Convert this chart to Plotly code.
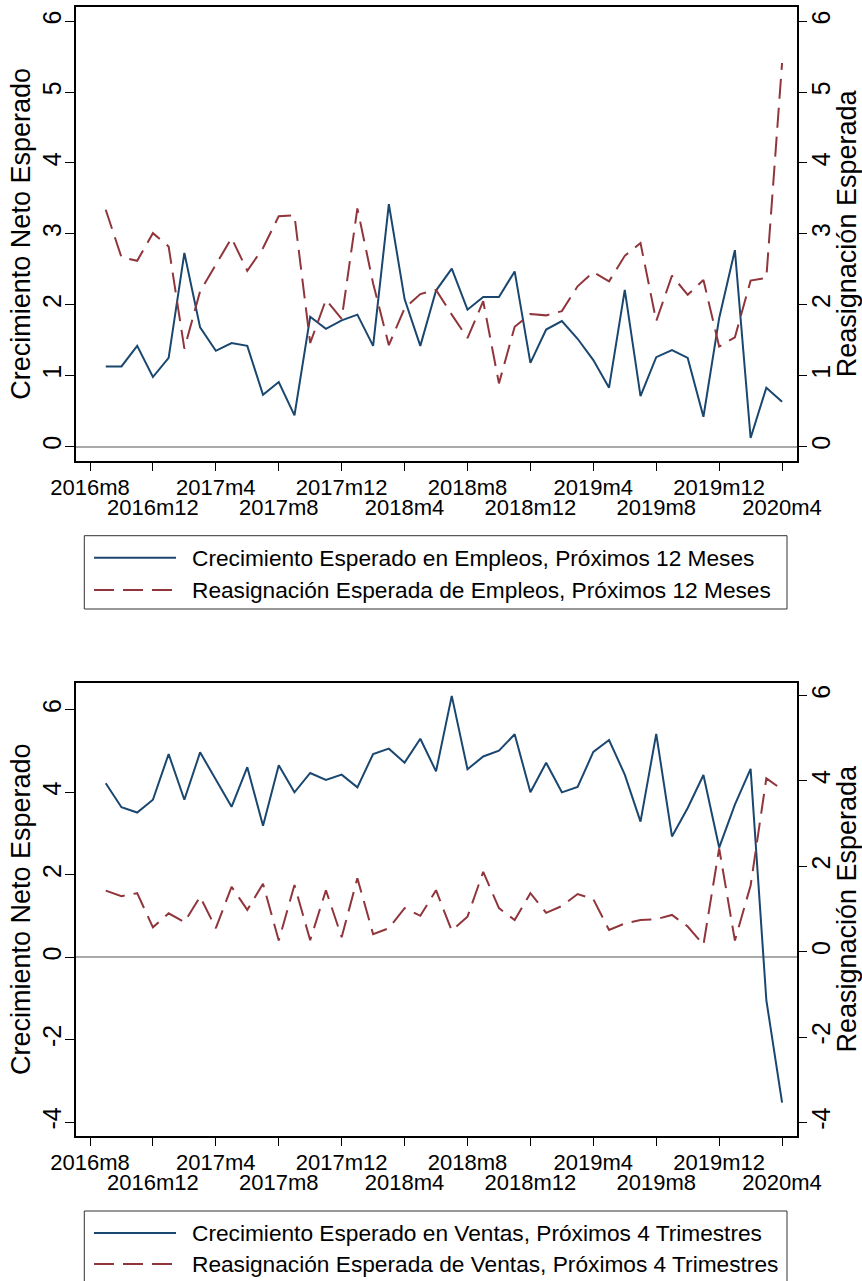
import plotly.graph_objects as go

W, H = 862, 1281

# ---------------- data ----------------
# monthly observations 2016m9 .. 2020m4
y0, m0 = 2016, 9
months = []
yy, mm = y0, m0
for _ in range(44):
    months.append(f"{yy}m{mm}")
    mm += 1
    if mm > 12:
        mm = 1
        yy += 1

empleo_crecimiento = [1.13, 1.13, 1.42, 0.98, 1.25, 2.73, 1.68, 1.35, 1.46, 1.42,
                      0.73, 0.91, 0.44, 1.83, 1.66, 1.78, 1.86, 1.42, 3.42, 2.08,
                      1.42, 2.20, 2.51, 1.93, 2.11, 2.11, 2.47, 1.18, 1.65, 1.77,
                      1.52, 1.22, 0.83, 2.21, 0.71, 1.26, 1.36, 1.25, 0.42, 1.81,
                      2.77, 0.12, 0.83, 0.63]
empleo_reasignacion = [3.34, 2.67, 2.62, 3.01, 2.82, 1.38, 2.19, 2.56, 2.94, 2.48,
                       2.80, 3.25, 3.26, 1.46, 2.07, 1.80, 3.36, 2.30, 1.43, 1.95,
                       2.15, 2.21, 1.86, 1.53, 2.05, 0.89, 1.69, 1.87, 1.85, 1.91,
                       2.26, 2.46, 2.33, 2.69, 2.87, 1.77, 2.41, 2.14, 2.35, 1.41,
                       1.54, 2.34, 2.38, 5.41]
ventas_crecimiento = [4.22, 3.64, 3.51, 3.82, 4.93, 3.82, 4.97, 4.30, 3.65, 4.61,
                      3.19, 4.66, 4.00, 4.47, 4.30, 4.43, 4.12, 4.93, 5.06, 4.72,
                      5.30, 4.51, 6.34, 4.56, 4.87, 5.01, 5.41, 4.00, 4.72, 4.00,
                      4.13, 4.98, 5.27, 4.43, 3.29, 5.42, 2.93, 3.62, 4.42, 2.66,
                      3.70, 4.57, -1.04, -3.53]
ventas_reasignacion = [1.43, 1.30, 1.37, 0.57, 0.90, 0.69, 1.29, 0.55, 1.52, 0.98,
                       1.59, 0.26, 1.56, 0.27, 1.44, 0.34, 1.72, 0.41, 0.55, 1.02,
                       0.84, 1.44, 0.49, 0.82, 1.87, 1.02, 0.74, 1.37, 0.91, 1.07,
                       1.35, 1.23, 0.51, 0.66, 0.74, 0.76, 0.86, 0.59, 0.16, 2.42,
                       0.26, 1.55, 4.06, 3.80]

ticks_fila1 = ["2016m8", "2017m4", "2017m12", "2018m8", "2019m4", "2019m12"]
ticks_fila2 = ["2016m12", "2017m8", "2018m4", "2018m12", "2019m8", "2020m4"]
yticks_top = [0, 1, 2, 3, 4, 5, 6]
yticks_bot = [-4, -2, 0, 2, 4, 6]

leyenda_top = ["Crecimiento Esperado en Empleos, Próximos 12 Meses",
               "Reasignación Esperada de Empleos, Próximos 12 Meses"]
leyenda_bot = ["Crecimiento Esperado en Ventas, Próximos 4 Trimestres",
               "Reasignación Esperada de Ventas, Próximos 4 Trimestres"]


def month_index(label):
    y, m = label.split("m")
    return (int(y) - 2016) * 12 + (int(m) - 8)


x_vals = [month_index(s) for s in months]
tv1 = [month_index(s) for s in ticks_fila1]
tv2 = [month_index(s) for s in ticks_fila2]

# ---------------- style ----------------
BLUE = "#1a476f"
RED = "#90353b"
FONT = "Liberation Sans, Arial, Helvetica, sans-serif"
DASH = "20px,9px"


def px_x(px):
    return px / W


def px_y(py):
    return 1 - py / H


XDOM = [px_x(76), px_x(796.7)]
TOP_DOM = [px_y(460.7), px_y(7)]
BOT_DOM = [px_y(1135.7), px_y(682.7)]
XRANGE = [-0.89, 44.93]

fig = go.Figure()
fig.add_trace(go.Scatter(x=x_vals, y=empleo_crecimiento, mode="lines", name=leyenda_top[0],
                         line=dict(color=BLUE, width=2), xaxis="x", yaxis="y", showlegend=False))
fig.add_trace(go.Scatter(x=x_vals, y=empleo_reasignacion, mode="lines", name=leyenda_top[1],
                         line=dict(color=RED, width=2, dash=DASH), xaxis="x3", yaxis="y2", showlegend=False))
fig.add_trace(go.Scatter(x=x_vals, y=ventas_crecimiento, mode="lines", name=leyenda_bot[0],
                         line=dict(color=BLUE, width=2), xaxis="x2", yaxis="y3", showlegend=False))
fig.add_trace(go.Scatter(x=x_vals, y=ventas_reasignacion, mode="lines", name=leyenda_bot[1],
                         line=dict(color=RED, width=2, dash=DASH), xaxis="x4", yaxis="y4", showlegend=False))

XT_FONT = dict(size=22, color="black", family=FONT)
YT_FONT = dict(size=25, color="black", family=FONT)
TITLE_FONT = dict(size=27, color="black", family=FONT)

xmain = dict(domain=XDOM, range=XRANGE, showgrid=False, zeroline=False, automargin=False,
             tickmode="array", tickvals=tv1 + tv2,
             ticktext=ticks_fila1 + [""] * len(tv2),
             ticks="outside", ticklen=9, tickwidth=1, tickcolor="black",
             showline=True, linecolor="black", linewidth=1.5, mirror=True,
             tickfont=XT_FONT, ticklabelstandoff=-3)
xrow2 = dict(range=XRANGE, showgrid=False, zeroline=False, automargin=False,
             tickmode="array", tickvals=tv2, ticktext=ticks_fila2,
             ticks="", showline=False, tickfont=XT_FONT, ticklabelstandoff=31)

ycommon = dict(showgrid=False, tickmode="array", ticks="outside", ticklen=9, automargin=False,
               tickwidth=1, tickcolor="black", showline=True, linecolor="black",
               linewidth=1.5, tickangle=-90, tickfont=YT_FONT)

fig.update_layout(
    width=W, height=H,
    margin=dict(l=0, r=0, t=0, b=0),
    paper_bgcolor="white", plot_bgcolor="white",
    font=dict(family=FONT, color="black"),
    showlegend=False,
    xaxis=dict(anchor="y", **xmain),
    xaxis3=dict(overlaying="x", anchor="y", **xrow2),
    yaxis=dict(domain=TOP_DOM, anchor="x", range=[-0.2, 6.2], tickvals=yticks_top,
               ticktext=[str(v) for v in yticks_top], mirror=True,
               zeroline=True, zerolinecolor="#a9a9a9", zerolinewidth=1.5,
               ticklabelstandoff=-6,
               title=dict(text="Crecimiento Neto Esperado", font=TITLE_FONT, standoff=0),
               **ycommon),
    yaxis2=dict(overlaying="y", side="right", anchor="x3", range=[-0.2, 6.2], tickvals=yticks_top,
                ticktext=[str(v) for v in yticks_top], zeroline=False,
                ticklabelstandoff=-7,
                title=dict(text="Reasignación Esperada", font=TITLE_FONT, standoff=24),
                **ycommon),
    xaxis2=dict(anchor="y3", **xmain),
    xaxis4=dict(overlaying="x2", anchor="y3", **xrow2),
    yaxis3=dict(domain=BOT_DOM, anchor="x2", range=[-4.33, 6.66], tickvals=yticks_bot,
                ticktext=[str(v) for v in yticks_bot], mirror=True,
                zeroline=True, zerolinecolor="#a9a9a9", zerolinewidth=1.5,
                ticklabelstandoff=-6,
                title=dict(text="Crecimiento Neto Esperado", font=TITLE_FONT, standoff=0),
                **ycommon),
    yaxis4=dict(overlaying="y3", side="right", anchor="x4", range=[-4.31, 6.30], tickvals=yticks_bot,
                ticktext=[str(v) for v in yticks_bot], zeroline=False,
                ticklabelstandoff=-7,
                title=dict(text="Reasignación Esperada", font=TITLE_FONT, standoff=24),
                **ycommon),
)

# ---------------- legends (boxed, below each panel) ----------------
LEG_FONT = dict(size=22.7, color="black", family=FONT)


def add_legend(top_px, bottom_px, row_px, labels):
    fig.add_shape(type="rect", xref="paper", yref="paper",
                  x0=px_x(84.3), x1=px_x(787), y0=px_y(bottom_px), y1=px_y(top_px),
                  line=dict(color="#333333", width=1), fillcolor="rgba(0,0,0,0)", layer="above")
    styles = [dict(color=BLUE, width=2), dict(color=RED, width=2, dash=DASH)]
    for lab, ry, st in zip(labels, row_px, styles):
        fig.add_shape(type="line", xref="paper", yref="paper",
                      x0=px_x(94), x1=px_x(176), y0=px_y(ry), y1=px_y(ry), line=st)
        fig.add_annotation(xref="paper", yref="paper", x=px_x(190), y=px_y(ry),
                           xanchor="left", yanchor="middle", showarrow=False,
                           text=lab, font=LEG_FONT)


add_legend(535.7, 609, [557.7, 590], leyenda_top)
add_legend(1211, 1284, [1233, 1264], leyenda_bot)

fig.write_html(
    "out.html",
    config={"displayModeBar": False},
    post_script="document.body.style.margin='0px';document.body.style.overflow='hidden';",
)
